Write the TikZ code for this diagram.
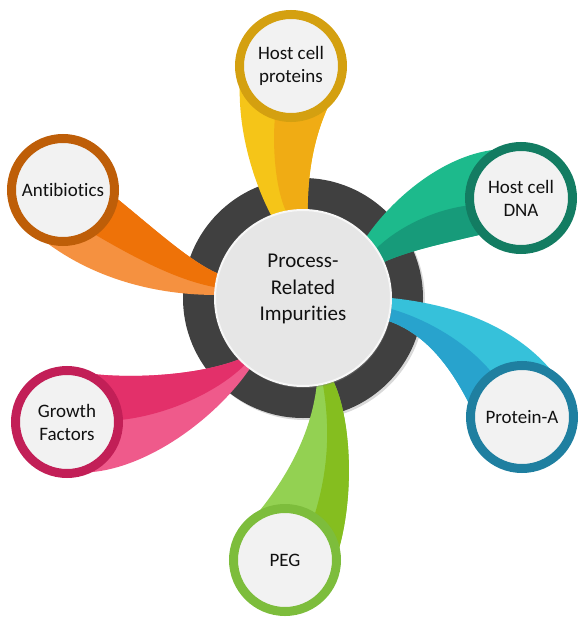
\documentclass[tikz,border=0pt]{standalone}
\usepackage{fontspec}
\setmainfont{Carlito}[Ligatures=NoCommon]
\usetikzlibrary{shadows}
\pgfdeclarelayer{ring}
\pgfdeclarelayer{tails}
\pgfsetlayers{ring,tails,main}
\definecolor{ringgray}{HTML}{404040}
\definecolor{hubfill}{HTML}{E6E6E6}
\definecolor{hubrim}{HTML}{F7F7F7}
\definecolor{satfill}{HTML}{F2F2F2}
\definecolor{txt}{HTML}{111111}
\definecolor{hcplight}{HTML}{F5C518}
\definecolor{hcpdark}{HTML}{F0AC14}
\definecolor{hcpring}{HTML}{D4A010}
\definecolor{abxlight}{HTML}{F59140}
\definecolor{abxdark}{HTML}{EE7208}
\definecolor{abxring}{HTML}{BE5E08}
\definecolor{dnalight}{HTML}{1DBA8C}
\definecolor{dnadark}{HTML}{179B7A}
\definecolor{dnaring}{HTML}{137C62}
\definecolor{prtalight}{HTML}{36C1DA}
\definecolor{prtadark}{HTML}{28A3CD}
\definecolor{prtaring}{HTML}{1F7FA0}
\definecolor{gflight}{HTML}{EF5A8B}
\definecolor{gfdark}{HTML}{E3306A}
\definecolor{gfring}{HTML}{C21F57}
\definecolor{peglight}{HTML}{93D152}
\definecolor{pegdark}{HTML}{85BE1F}
\definecolor{pegring}{HTML}{7DBD3C}

\begin{document}
\begin{tikzpicture}[x=1pt, y=-1pt,
    sat/.style = {circle, minimum size=103pt, inner sep=0pt, outer sep=0pt,
                  line width=9pt, fill=satfill, align=center, text=txt,
                  font=\fontsize{19}{23}\selectfont},
    hubcircle/.style = {circle, minimum size=176pt, inner sep=0pt, outer sep=0pt,
                  fill=hubfill, draw=hubrim, line width=2pt,
                  drop shadow={opacity=0.4, shadow xshift=1pt, shadow yshift=-2pt}}]
\useasboundingbox (0,0) rectangle (585,624);
\node[hubcircle] (hub) at (303,298) {};
\node[align=center, text=txt, font=\fontsize{21}{26.5}\selectfont] (hubtext) at (303,289) {Process-\\Related\\Impurities};
\node[sat, draw=hcpring] (hcp) at (291,66) {Host cell\\proteins};
\node[sat, draw=abxring] (abx) at (63,190) {Antibiotics};
\node[sat, draw=dnaring] (dna) at (521,198) {Host cell\\DNA};
\node[sat, draw=prtaring] (prta) at (522,417) {Protein-A};
\node[sat, draw=gfring] (gf) at (67,422) {Growth\\Factors};
\node[sat, draw=pegring] (peg) at (285,560) {PEG};
\begin{pgfonlayer}{ring}
\fill[ringgray, drop shadow={opacity=0.3, shadow xshift=2pt, shadow yshift=-2pt}] (hub.center) circle[radius=120];
\end{pgfonlayer}
\begin{pgfonlayer}{tails}
\fill[hcplight] (hcp.190) .. controls (236,130) and (255,185) .. (hub.111) -- (hub.87) .. controls (308,160) and (318,125) .. (hcp.-33) -- cycle;
\fill[hcpdark] (hcp.-108) .. controls (272,150) and (276,190) .. (hub.101) -- (hub.87) .. controls (308,160) and (318,125) .. (hcp.-33) -- cycle;
\fill[abxlight] (abx.-125) .. controls (95,285) and (170,295) .. (hub.178) -- (hub.164) .. controls (190,262) and (150,225) .. (abx.-7) -- cycle;
\fill[abxdark] (abx.-56) .. controls (130,255) and (175,280) .. (hub.173) -- (hub.164) .. controls (190,262) and (150,225) .. (abx.-7) -- cycle;
\fill[dnalight] (dna.108) .. controls (450,150) and (395,195) .. (hub.44) -- (hub.24) .. controls (410,250) and (450,242) .. (dna.-136) -- cycle;
\fill[dnadark] (dna.-172) .. controls (430,210) and (395,230) .. (hub.34) -- (hub.24) .. controls (410,250) and (450,242) .. (dna.-136) -- cycle;
\fill[prtalight] (hub.0) .. controls (460,305) and (530,330) .. (prta.27) -- (prta.170) .. controls (455,375) and (430,335) .. (hub.-15) -- cycle;
\fill[prtadark] (hub.-7) .. controls (430,320) and (470,345) .. (prta.124) -- (prta.170) .. controls (455,375) and (430,335) .. (hub.-15) -- cycle;
\fill[gflight] (gf.74) .. controls (130,380) and (200,375) .. (hub.-136) -- (hub.-127) .. controls (215,420) and (140,475) .. (gf.-79) -- cycle;
\fill[gfdark] (gf.74) .. controls (130,380) and (200,375) .. (hub.-136) -- (hub.-131) .. controls (220,390) and (170,415) .. (gf.2) -- cycle;
\fill[peglight] (hub.-81) .. controls (310,445) and (275,495) .. (peg.145) -- (peg.3) .. controls (355,500) and (352,420) .. (hub.-70) -- cycle;
\fill[pegdark] (peg.56) .. controls (332,460) and (328,415) .. (hub.-77) -- (hub.-70) .. controls (352,420) and (355,500) .. (peg.3) -- cycle;
\end{pgfonlayer}
\end{tikzpicture}
\end{document}
